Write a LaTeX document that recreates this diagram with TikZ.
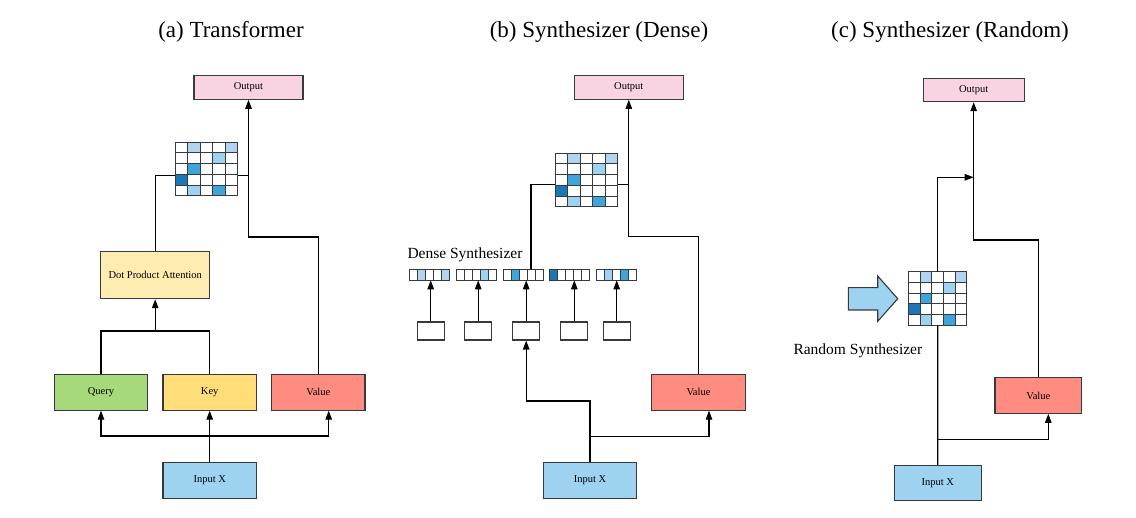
\documentclass[tikz,border=0pt]{standalone}
\usepackage{fontspec}
\setmainfont{Liberation Serif}
\usetikzlibrary{arrows.meta}
\definecolor{strokec}{HTML}{36393D}
\definecolor{pinkc}{HTML}{F8D4E2}
\definecolor{dpac}{HTML}{FFECB0}
\definecolor{queryc}{HTML}{A6D97A}
\definecolor{keyc}{HTML}{FFDE7A}
\definecolor{valuec}{HTML}{FF8C80}
\definecolor{inputc}{HTML}{9DD3F0}
\definecolor{cA}{HTML}{B2D4EE}
\definecolor{cB}{HTML}{9DD3F0}
\definecolor{cC}{HTML}{3FA4DA}
\definecolor{cD}{HTML}{1B77B5}
\tikzset{
  box/.style={draw=strokec, line width=1.1pt, inner sep=0pt, font=\fontsize{10.5}{12}\selectfont, text=black},
  conn/.style={line width=1.1pt, draw=black},
  arr/.style={conn, -{Triangle[length=9pt,width=6.5pt]}},
  cell/.style={draw=strokec, line width=1pt},
  titletext/.style={font=\fontsize{23}{27}\selectfont, anchor=base, inner sep=0pt},
  lbl/.style={font=\fontsize{15.5}{18}\selectfont, anchor=base west, inner sep=0pt},
  holder/.style={inner sep=0pt, outer sep=0pt, anchor=north west},
}
% attention grid: name, x, y (top-left), cell width, cell height
\newcommand{\attgrid}[5]{%
  \node[holder, minimum width={5*#4}, minimum height={5*#5}] (#1) at (#2,#3) {};
  \foreach \i in {0,...,4}{\foreach \j in {0,...,4}{%
    \draw[cell, fill=white] ({#2+\i*#4},{#3+\j*#5}) rectangle ++(#4,#5);}}
  \foreach \i/\j/\c in {1/0/cA,4/0/cA,3/1/cB,1/2/cC,0/3/cD,1/4/cB,3/4/cC}{%
    \draw[cell, fill=\c] ({#2+\i*#4},{#3+\j*#5}) rectangle ++(#4,#5);}
}
% synthesized vector: name, x, y (top-left), coloured cells
\newcommand{\synvec}[4]{%
  \node[holder, minimum width=40, minimum height=11] (#1) at (#2,#3) {};
  \foreach \i in {0,...,4}{%
    \draw[cell, fill=white] ({#2+\i*8},#3) rectangle ++(8,11);}
  \foreach \i/\c in {#4}{%
    \draw[cell, fill=\c] ({#2+\i*8},#3) rectangle ++(8,11);}
}
\begin{document}
\begin{tikzpicture}[x=1pt,y=-1pt]
\useasboundingbox (0,0) rectangle (1136,518);

% ---------------- titles
\node[titletext] (ttA) at (231,37.5) {(a) Transformer};
\node[titletext] (ttB) at (599,37.5) {(b) Synthesizer (Dense)};
\node[titletext] (ttC) at (950,37.5) {(c) Synthesizer (Random)};

% ---------------- panel (a)
\node[box, fill=pinkc, minimum width=109, minimum height=24] (oA) at (248.5,87.3) {Output};
\attgrid{gA}{175.3}{142.3}{12.5}{10.7}
\node[box, fill=dpac, minimum width=109, minimum height=47] (dA) at (155.2,275.2) {Dot Product Attention};
\node[box, fill=queryc, minimum width=93.4, minimum height=35.4] (qA) at (101,392.4) {Query};
\node[box, fill=keyc, minimum width=93.4, minimum height=35.4] (kA) at (209.7,392.4) {Key};
\node[box, fill=valuec, minimum width=93.4, minimum height=35.4] (vA) at (318.3,392.4) {Value};
\node[box, fill=inputc, minimum width=93.4, minimum height=35.6] (inA) at (209.7,480.5) {Input X};

\coordinate (jA) at (209.7,436);
\coordinate (mA) at (155.2,331);
\coordinate (gAl) at (155.2,175.3);
\coordinate (tA) at (248.5,237);
\draw[arr] (inA.north) -- (kA.south);
\draw[arr] (jA) -| (qA.south);
\draw[arr] (jA) -| ([xshift=10.4pt]vA.south);
\draw[conn] (qA.north) |- (mA) -| (kA.north);
\draw[arr] (mA) -- (dA.south);
\draw[conn] (dA.north) -- (gAl) -- (gAl -| gA.west);
\draw[conn] (gAl -| gA.east) -- (gAl -| oA.south);
\draw[arr] (vA.north) |- (tA) -- (oA.south);

% ---------------- panel (b)
\node[box, fill=pinkc, minimum width=109, minimum height=24] (oB) at (628.8,87.3) {Output};
\attgrid{gB}{555.3}{153.3}{12.5}{10.7}
\node[lbl] (dsl) at (407.3,259) {Dense Synthesizer};
\synvec{v1}{409}{269.3}{1/cA,4/cA}
\synvec{v2}{456.7}{269.3}{3/cB}
\synvec{v3}{503.7}{269.3}{1/cC}
\synvec{v4}{549.3}{269.3}{0/cD}
\synvec{v5}{596.7}{269.3}{1/cB,3/cC}
\node[box, fill=white, minimum width=27, minimum height=18] (b1) at (430.7,331) {};
\node[box, fill=white, minimum width=27, minimum height=18] (b2) at (478.2,331) {};
\node[box, fill=white, minimum width=27, minimum height=18] (b3) at (526.2,331) {};
\node[box, fill=white, minimum width=27, minimum height=18] (b4) at (574.3,331) {};
\node[box, fill=white, minimum width=27, minimum height=18] (b5) at (616.7,331) {};
\foreach \k in {1,...,5}{\draw[arr] (b\k.north) -- (b\k.north |- v\k.south);}
\node[box, fill=valuec, minimum width=93.6, minimum height=35.4] (vB) at (698.5,392.4) {Value};
\node[box, fill=inputc, minimum width=93.4, minimum height=35.6] (inB) at (590,480.5) {Input X};

\coordinate (jB) at (590,436.7);
\coordinate (kB) at (590,401);
\coordinate (gBl) at (531,184.3);
\coordinate (tB) at (628.8,236.7);
\draw[arr] (inB.north) -- (kB) -| (b3.south);
\draw[arr] (jB) -| ([xshift=10.5pt]vB.south);
\draw[conn] (v3.north -| gBl) -- (gBl) -- (gBl -| gB.west);
\draw[conn] (gBl -| gB.east) -- (gBl -| oB.south);
\draw[arr] (vB.north) |- (tB) -- (oB.south);

% ---------------- panel (c)
\node[box, fill=pinkc, minimum width=101, minimum height=23.4] (oC) at (973.7,90) {Output};
\attgrid{gC}{908.85}{272}{11.54}{10.66}
\draw[draw=strokec, line width=1.1pt, fill=inputc, line join=miter]
  (848.3,287.7) -- (877.7,287.7) -- (877.7,276) -- (897.7,298.7) -- (877.7,321.4)
  -- (877.7,310) -- (848.3,310) -- cycle;
\node[lbl] (rsl) at (793.3,355) {Random Synthesizer};
\node[box, fill=valuec, minimum width=86.7, minimum height=35.6] (vC) at (1038.3,395.5) {Value};
\node[box, fill=inputc, minimum width=86.7, minimum height=35.3] (inC) at (937.7,483.3) {Input X};

\coordinate (jC) at (937.7,439.3);
\coordinate (uC) at (937.7,177.3);
\coordinate (tC) at (973.7,240);
\draw[conn] (inC.north) -- (gC.south);
\draw[arr] (jC) -| ([xshift=10pt]vC.south);
\draw[arr] (gC.north) |- (tC |- uC);
\draw[arr] (vC.north) |- (tC) -- (oC.south);
\end{tikzpicture}
\end{document}
